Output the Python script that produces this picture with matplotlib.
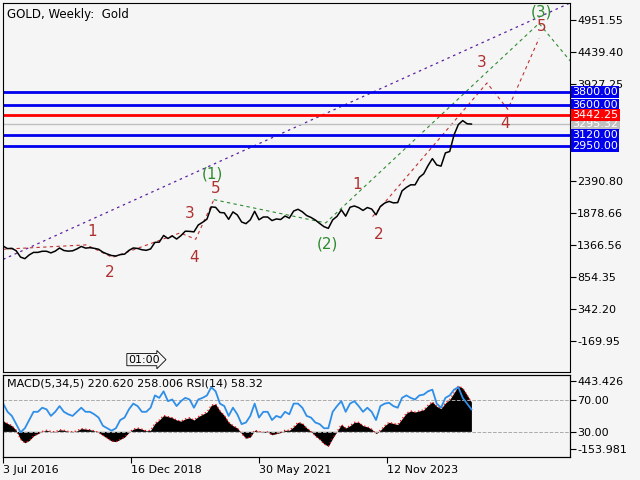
import matplotlib
matplotlib.use("Agg")
import matplotlib.pyplot as plt
import numpy as np

# monthly closes Jul 2016 .. Jul 2025
price = [1350, 1310, 1315, 1275, 1175, 1150,
         1210, 1250, 1250, 1268, 1268, 1242, 1270, 1320, 1280, 1270, 1275, 1305,
         1345, 1318, 1325, 1315, 1300, 1253, 1224, 1200, 1192, 1215, 1222, 1282,
         1320, 1313, 1292, 1283, 1305, 1410, 1413, 1520, 1472, 1512, 1463, 1517,
         1588, 1585, 1577, 1687, 1730, 1780, 1975, 1968, 1886, 1880, 1777, 1895,
         1847, 1734, 1708, 1769, 1905, 1770, 1814, 1814, 1757, 1783, 1774, 1829,
         1797, 1909, 1937, 1897, 1837, 1807, 1766, 1711, 1660, 1633, 1768, 1824,
         1928, 1827, 1969, 1990, 1963, 1919, 1965, 1940, 1849, 1983, 2036, 2063,
         2039, 2044, 2230, 2286, 2327, 2326, 2447, 2503, 2634, 2744, 2643, 2625,
         2835, 2858, 3124, 3288, 3350, 3300, 3295]
macd = [90, 70, 50, 10, -70, -100,
        -80, -40, -20, 0, 10, 0, -5, 15, 10, 0, -5, 5,
        25, 20, 15, 5, -10, -35, -60, -85, -90, -70, -50, -10,
        20, 30, 20, 5, 10, 70, 100, 140, 130, 120, 100, 90,
        110, 120, 100, 130, 150, 170, 230, 240, 180, 140, 80, 50,
        30, -20, -60, -50, 10, 0, -10, -5, -30, -20, -10, 10,
        10, 40, 80, 70, 30, 0, -40, -70, -110, -130, -60, 0,
        60, 30, 50, 80, 80, 50, 40, 20, -20, 10, 50, 80,
        70, 60, 110, 160, 180, 170, 180, 190, 230, 260, 220, 200,
        250, 280, 340, 400, 380, 320, 258]
rsi = [65, 55, 50, 40, 30, 35,
       45, 55, 55, 60, 58, 50, 55, 62, 55, 52, 50, 55,
       60, 55, 55, 52, 48, 38, 35, 32, 35, 45, 48, 58,
       65, 62, 55, 55, 60, 75, 72, 80, 68, 70, 62, 68,
       72, 70, 60, 70, 72, 75, 85, 80, 65, 62, 50, 60,
       52, 40, 42, 50, 65, 48, 55, 55, 45, 50, 48, 55,
       52, 65, 65, 60, 50, 48, 42, 40, 35, 35, 55, 62,
       68, 55, 65, 68, 62, 55, 60, 55, 45, 62, 65, 66,
       62, 60, 72, 75, 72, 70, 75, 76, 80, 82, 65, 60,
       72, 75, 82, 85, 72, 65, 58]
t = 2016.5 + np.arange(len(price)) / 12.0

blue_levels = [3800.00, 3600.00, 3120.00, 2950.00]
red_level = 3442.25
last_price = 3295.32
price_ticks = [4951.55, 4439.40, 3927.25, 2390.80, 1878.66, 1366.56, 854.35, 342.20, -169.95]

# wave labels: (text, year, price, colour)
waves = [("1", 2018.21, 1588, "#b03030"), ("2", 2018.55, 931, "#b03030"),
         ("3", 2020.09, 1876, "#b03030"), ("4", 2020.17, 1171, "#b03030"),
         ("5", 2020.59, 2261, "#b03030"), ("(1)", 2020.53, 2501, "#2e8b2e"),
         ("(2)", 2022.74, 1380, "#2e8b2e"), ("1", 2023.30, 2325, "#b03030"),
         ("2", 2023.72, 1540, "#b03030"), ("3", 2025.70, 4280, "#b03030"),
         ("4", 2026.14, 3303, "#b03030"), ("5", 2026.85, 4857, "#b03030"),
         ("(3)", 2026.85, 5081, "#2e8b2e")]
purple_x, purple_y = [2016.5, 2027.4], [1139, 5226]
green_x = [2020.55, 2022.7, 2026.8, 2027.4]
green_y = [2090, 1720, 4900, 4300]
red1_x = [2016.5, 2018.1, 2018.6, 2019.9, 2020.2, 2020.55]
red1_y = [1300, 1370, 1170, 1560, 1460, 2090]
red2_x = [2023.6, 2025.8, 2026.2, 2026.8]
red2_y = [1820, 3950, 3530, 4660]
xticks = [2016.5, 2018.96, 2021.41, 2023.87]
xlabels = ["3 Jul 2016", "16 Dec 2018", "30 May 2021", "12 Nov 2023"]

bg = "#f5f5f5"
fig = plt.figure(figsize=(6.4, 4.8), dpi=100, facecolor=bg)
ax = fig.add_axes([0.005, 0.225, 0.886, 0.769], facecolor=bg)
ax2 = fig.add_axes([0.005, 0.048, 0.886, 0.171], facecolor=bg)
xlim = (2016.5, 2027.4)

ax.set_xlim(*xlim)
ax.set_ylim(-656, 5226)
ax.plot(purple_x, purple_y, color="#5a1fa0", ls=(0, (2, 3)), lw=0.9)
ax.plot(green_x, green_y, color="#2e8b2e", ls=(0, (3, 3)), lw=0.8)
ax.plot(red1_x, red1_y, color="#c03030", ls=(0, (3, 3)), lw=0.8)
ax.plot(red2_x, red2_y, color="#c03030", ls=(0, (3, 3)), lw=0.8)
for lv in blue_levels:
    ax.axhline(lv, color="#0000ee", lw=2)
ax.axhline(red_level, color="#ff0000", lw=2)
ax.axhline(last_price, color="#c0c0c0", lw=1)
ax.plot(t, price, color="black", lw=1.1)
for txt, x, y, c in waves:
    ax.text(x, y, txt, color=c, fontsize=11, ha="center", va="center")

ax.yaxis.tick_right()
ax.set_yticks(price_ticks)
ax.set_yticklabels([f"{v:.2f}" for v in price_ticks], fontsize=8)
ax.tick_params(axis="y", length=4, pad=1)
ax.set_xticks([])
trans = ax.get_yaxis_transform()
ax.text(1.004, last_price, f"{last_price:.2f}", transform=trans, color="white", fontsize=8, va="center",
        bbox=dict(boxstyle="square,pad=0.1", fc="#c0c0c0", ec="none"), clip_on=False)
for lv in blue_levels:
    ax.text(1.004, lv, f"{lv:.2f}", transform=trans, color="white", fontsize=8, va="center",
            bbox=dict(boxstyle="square,pad=0.1", fc="#0000ee", ec="none"), clip_on=False)
ax.text(1.004, red_level, f"{red_level:.2f}", transform=trans, color="white", fontsize=8, va="center",
        bbox=dict(boxstyle="square,pad=0.1", fc="#ff0000", ec="none"), clip_on=False)
ax.text(0.006, 0.985, "GOLD, Weekly:  Gold", transform=ax.transAxes, fontsize=8.5, va="top")
ax.text(0.22, 0.02, "01:00", transform=ax.transAxes, fontsize=8, va="bottom",
        bbox=dict(boxstyle="rarrow,pad=0.1", fc=bg, ec="black", lw=0.6))

# indicator pane: RSI on a twin axis, MACD on the base axis
ax2.set_xlim(*xlim)
ax2.set_ylim(-225, 497)
ax2.fill_between(t, 0, macd, color="black", lw=0)
ax2.plot(t, macd, color="red", ls=(0, (1, 2)), lw=0.9)
ax3 = ax2.twinx()
ax3.set_ylim(0, 100)
ax3.axhline(70, color="#aaaaaa", ls="--", lw=0.7)
ax3.axhline(30, color="#aaaaaa", ls="--", lw=0.7)
ax3.plot(t, rsi, color="#2f8ee8", lw=1.3)
ax3.set_yticks([70, 30])
ax3.set_yticklabels(["70.00", "30.00"], fontsize=8)
ax3.tick_params(axis="y", length=4, pad=1)
ax2.yaxis.tick_right()
ax2.set_yticks([443.426, -153.981])
ax2.set_yticklabels(["443.426", "-153.981"], fontsize=8)
ax2.tick_params(axis="y", left=False, labelleft=False, right=True, labelright=True, length=4, pad=1)
ax2.set_xticks(xticks)
ax2.set_xticklabels(xlabels, fontsize=8, ha="left")
ax2.tick_params(axis="x", length=4, pad=2)
ax2.text(0.006, 0.95, "MACD(5,34,5) 220.620 258.006 RSI(14) 58.32", transform=ax2.transAxes,
         fontsize=8, va="top")

fig.savefig("out.png", dpi=100, facecolor=bg)
